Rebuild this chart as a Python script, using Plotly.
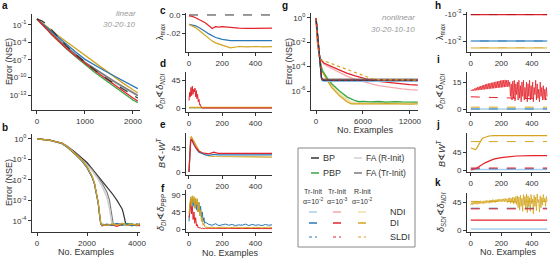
import plotly.graph_objects as go

W, H = 551, 259
def fx(p): return p / W
def fy(p): return 1 - p / H

BLACK = '#333333'; GREEN = '#35a845'; LGRAY = '#d0d0d0'; GRAY = '#7a7a7a'
LBLUE = '#a9d0ea'; BLUE = '#2a78b8'; PINK = '#f5a9ad'; RED = '#e3232b'
LGOLD = '#f2e0a6'; GOLD = '#d4a41e'

# ---------------- data ----------------
# panel a (log10 of error)
a_x = [0, 100, 200, 300, 400, 500, 600, 800, 1000, 1200, 1400, 1600, 1800, 2000, 2100]
a_gold = [0, -0.6, -1.2, -1.9, -2.6, -3.2, -3.8, -5.0, -6.3, -7.5, -8.7, -9.8, -11.0, -12.1, -12.6]
a_blue = [0, -0.7, -1.4, -2.1, -2.9, -3.6, -4.2, -5.6, -6.9, -7.9, -8.8, -9.7, -10.6, -11.5, -11.9]
a_gray = [0, -0.8, -1.6, -2.4, -3.2, -3.9, -4.6, -6.0, -7.4, -8.5, -9.6, -10.6, -11.6, -12.6, -13.1]
a_lgray = [0, -0.8, -1.7, -2.5, -3.3, -4.1, -4.8, -6.2, -7.5, -8.6, -9.7, -10.7, -11.7, -12.5, -13.0]
a_black = [0, -0.3, -0.9, -1.8, -2.8, -3.7, -4.5, -6.0, -7.4, -8.7, -9.9, -11.0, -12.0, -13.0, -13.5]
a_red = [0, -0.8, -1.7, -2.6, -3.4, -4.2, -4.9, -6.3, -7.6, -8.8, -10.0, -11.2, -12.4, -13.5, -14.0]
a_green = [0, -0.8, -1.7, -2.6, -3.4, -4.2, -5.0, -6.4, -7.8, -9.1, -10.3, -11.5, -12.7, -13.85, -14.3]

# panel b (log10 of error)
b_x = [0, 500, 1000, 1200, 1500, 1800, 2000, 2200, 2300, 2400, 2450, 2500, 2550, 2600, 2800, 3000, 3200, 3400, 3600, 3800, 4000, 4120]
b_blue = [0, -0.06, -0.22, -0.39, -0.72, -1.08, -1.4, -1.85, -2.2, -2.75, -3.15, -3.7, -4.15, -4.2, -4.15, -4.22, -4.12, -4.2, -4.16, -4.24, -4.14, -4.2]
b_gold = [0, -0.06, -0.21, -0.37, -0.7, -1.05, -1.36, -1.8, -2.15, -2.7, -3.1, -3.6, -4.1, -4.18, -4.22, -4.14, -4.2, -4.12, -4.22, -4.16, -4.2, -4.14]
b_red = [0, -0.06, -0.22, -0.38, -0.71, -1.06, -1.38, -1.83, -2.18, -2.72, -3.12, -3.65, -4.12, -4.24, -4.18, -4.2, -4.26, -4.16, -4.2, -4.22, -4.18, -4.24]
b_green = [0, -0.06, -0.22, -0.39, -0.72, -1.07, -1.39, -1.84, -2.2, -2.74, -3.14, -3.68, -4.14, -4.16, -4.2, -4.18, -4.14, -4.22, -4.12, -4.18, -4.24, -4.16]
b_gray_x = [0, 500, 1000, 1200, 1500, 1800, 2000, 2200, 2400, 2600, 2800, 2900, 2950, 3000, 3050, 3200, 3400, 3600, 3800, 4000, 4120]
b_gray = [0, -0.06, -0.22, -0.38, -0.68, -1.0, -1.25, -1.5, -1.8, -2.15, -2.6, -3.0, -3.4, -3.9, -4.15, -4.18, -4.12, -4.2, -4.15, -4.22, -4.15]
b_lgray = [0, -0.06, -0.22, -0.38, -0.69, -1.02, -1.28, -1.55, -1.88, -2.3, -2.85, -3.4, -3.9, -4.15, -4.2, -4.14, -4.2, -4.16, -4.22, -4.15, -4.2]
b_black_x = [0, 500, 1000, 1200, 1500, 1800, 2000, 2200, 2400, 2600, 2800, 3000, 3200, 3300, 3400, 3450, 3500, 3550, 3600, 3800, 4000, 4120]
b_black = [0, -0.06, -0.2, -0.35, -0.62, -0.92, -1.15, -1.45, -1.75, -2.05, -2.3, -2.65, -3.0, -3.2, -3.4, -3.6, -3.95, -4.15, -4.18, -4.15, -4.2, -4.14]

# panel c (lambda max)
c_x = [0, 20, 40, 60, 80, 100, 120, 140, 160, 180, 200, 250, 300, 350, 400, 450, 500]
c_red = [-0.001, -0.0015, -0.003, -0.005, -0.007, -0.009, -0.012, -0.015, -0.013, -0.0135, -0.013, -0.014, -0.0145, -0.0148, -0.0146, -0.0148, -0.0147]
c_blue = [-0.0104, -0.011, -0.012, -0.014, -0.016, -0.0185, -0.021, -0.023, -0.025, -0.026, -0.027, -0.0285, -0.0283, -0.0285, -0.0284, -0.0285, -0.0284]
c_gold = [-0.0105, -0.012, -0.014, -0.017, -0.02, -0.0235, -0.026, -0.029, -0.031, -0.032, -0.0335, -0.0365, -0.035, -0.0355, -0.035, -0.0355, -0.0352]

# panel d
d_red_x = [0, 4, 8, 12, 16, 20, 24, 28, 32, 36, 40, 44, 48, 52, 56, 60, 64, 68, 72, 76, 80, 100, 500]
d_red = [12, 25, 18, 33, 20, 35, 22, 30, 26, 32, 18, 28, 15, 22, 10, 14, 5, 6, 2, 1, 0, 0, 0]
d_flat_x = [0, 500]
d_gold = [1, 1]
d_blue = [0, 0]

# panel e
e_x = [0, 5, 10, 15, 20, 30, 40, 50, 60, 80, 100, 120, 150, 175, 200, 250, 300, 400, 500]
e_gold = [0, 45, 64, 66, 63, 56, 50, 44, 40, 35, 32, 30, 29, 29, 28, 28, 28, 28, 28]
e_blue = [0, 38, 57, 60, 58, 51, 45, 41, 37, 34, 32, 31, 33, 32, 32, 32, 32, 32, 32]
e_red = [0, 30, 58, 62, 58, 52, 46, 42, 39, 36, 35, 34, 37, 35, 35, 35, 35, 35, 35]

# panel f
f_x = [0, 5, 10, 15, 20, 25, 30, 35, 40, 45, 50, 55, 60, 65, 70, 75, 80, 85, 90, 95, 100,
       120, 140, 160, 180, 200, 220, 240, 260, 280, 300, 320, 340, 360, 380, 400, 420, 440, 460, 480, 500]
f_gold = [40, 75, 85, 60, 88, 70, 86, 55, 82, 65, 80, 45, 70, 35, 50, 20, 30, 10, 15, 6, 5,
          4, 5, 3, 4, 5, 4, 3, 4, 5, 4, 3, 4, 4, 3, 5, 4, 3, 4, 5, 4]
f_blue = [20, 60, 80, 50, 85, 60, 80, 55, 78, 50, 75, 45, 70, 40, 60, 30, 45, 20, 30, 15, 18,
          12, 10, 14, 9, 11, 13, 10, 12, 9, 11, 10, 13, 9, 12, 10, 11, 9, 12, 10, 11]
f_red = [30, 45, 80, 40, 60, 25, 45, 15, 30, 8, 12, 3, 5, 2, 3, 1, 2, 1, 2, 1, 2,
         2, 1, 2, 1, 1, 2, 1, 2, 1, 1, 2, 1, 2, 1, 1, 2, 1, 2, 1, 1]

# panel g (log10 of error)
g_dark_x = [0, 100, 200, 300, 400, 500, 600, 700, 800, 1000, 2000, 4000, 6000, 8000, 10000, 12000, 13000]
g_black = [0, -0.8, -1.6, -2.4, -3.2, -3.9, -4.5, -4.9, -5.05, -5.1, -5.1, -5.1, -5.12, -5.1, -5.1, -5.1, -5.1]
g_blue = [0, -0.8, -1.6, -2.4, -3.2, -3.9, -4.5, -4.95, -5.12, -5.15, -5.15, -5.16, -5.15, -5.15, -5.16, -5.15, -5.15]
g_lblue = [0, -0.8, -1.6, -2.4, -3.2, -3.9, -4.6, -5.0, -5.15, -5.2, -5.2, -5.2, -5.21, -5.2, -5.2, -5.2, -5.2]
g_gray = [0, -0.8, -1.6, -2.4, -3.2, -3.9, -4.5, -4.9, -5.0, -5.02, -5.02, -5.03, -5.02, -5.02, -5.03, -5.02, -5.02]
g_curve_x = [0, 200, 500, 1000, 2000, 3000, 4000, 5000, 6000, 7000, 8000, 9000, 10000, 11000, 12000, 13000]
g_red = [0, -2.0, -3.3, -3.7, -4.0, -4.3, -4.55, -4.75, -4.95, -5.1, -5.2, -5.28, -5.35, -5.42, -5.48, -5.52]
g_pink = [0, -2.3, -3.3, -3.8, -4.15, -4.5, -4.8, -5.05, -5.25, -5.4, -5.55, -5.65, -5.75, -5.82, -5.88, -5.92]
g_sldi_gold_x = [0, 200, 500, 1000, 2000, 3000, 4000, 5000, 6000, 7000, 8000, 10000, 13000]
g_sldi_gold = [0, -2.0, -3.4, -3.5, -3.75, -4.0, -4.25, -4.5, -4.75, -4.95, -5.08, -5.1, -5.1]
g_fast_x = [0, 150, 300, 600, 800, 1500, 2000, 3000, 4000, 4500, 5000, 5500, 6000, 7000, 8000, 9000, 10000, 11000, 12000, 13000]
g_green = [0, -1.4, -2.4, -3.8, -4.3, -5.0, -5.4, -6.0, -6.5, -6.65, -6.8, -6.88, -6.85, -6.9, -6.86, -6.92, -6.87, -6.9, -6.88, -6.91]
g_gold = [0, -1.5, -2.5, -3.9, -4.4, -5.2, -5.7, -6.4, -6.9, -7.05, -7.06, -7.04, -7.07, -7.05, -7.06, -7.04, -7.06, -7.05, -7.07, -7.05]
g_lgold = [0, -1.5, -2.5, -3.85, -4.35, -5.1, -5.55, -6.25, -6.75, -6.95, -7.0, -7.02, -7.0, -7.01, -7.0, -7.02, -7.0, -7.01, -7.0, -7.01]

# panel h (|lambda max|, plotted as negative values)
h_x = [0, 100, 200, 300, 400, 500]
h_red = [1.05e-3, 1.05e-3, 1.05e-3, 1.05e-3, 1.05e-3, 1.05e-3]
h_blue = [1.0e-2, 1.0e-2, 1.0e-2, 1.0e-2, 1.0e-2, 1.0e-2]
h_gold = [1.8e-2, 1.8e-2, 1.8e-2, 1.8e-2, 1.8e-2, 1.8e-2]

# panel i
i_x = list(range(0, 501, 5))
i_red = [10, 10.6, 10.1, 11.0, 10.2, 11.4, 10.3, 11.8, 10.4, 12.2, 10.5, 12.5, 10.6, 12.8, 10.7, 13.1,
         10.8, 13.4, 10.9, 13.7, 11.0, 14.0, 11.1, 14.2, 11.2, 14.4, 11.3, 14.6, 11.4, 14.8, 11.5, 15.0,
         11.6, 15.2, 11.7, 15.4, 11.8, 15.6, 11.9, 15.8, 12.0, 16.0, 12.1, 16.0, 12.2, 16.2, 12.3, 16.0,
         12.4, 16.1,
         12.5, 15, 7, 14, 5, 15.5, 6, 16, 4.5, 14, 8, 15, 5, 16, 6, 13, 4, 15, 7, 16, 5, 12, 6, 15, 4,
         14, 7, 16, 5, 13, 6, 15, 4, 12, 8, 16, 5, 14, 6, 11, 4, 15, 7, 12, 5, 13, 6, 11, 5, 12, 7]
i_dash_x = [0, 100, 200, 250, 300, 400, 500]
i_red_dash = [6.8, 6.5, 6.2, 6.0, 5.8, 5.6, 5.5]
i_flat_x = [0, 500]
i_gold_dash = [1, 1]
i_blue = [0, 0]

# panel j
j_x = [0, 10, 20, 30, 40, 50, 60, 70, 80, 100, 120, 150, 200, 300, 400, 500]
j_gold = [55, 53, 52, 51, 55, 62, 70, 76, 80, 83, 85, 86, 86, 86, 86, 86]
j_red = [0, 0.5, 1, 3, 5, 8, 11, 13, 15, 19, 23, 27, 31, 35, 36, 36]
j_flat_x = [0, 500]
j_gold_dash = [71, 71]
j_red_dash = [5, 5]
j_blue_dash = [3, 3]
j_blue = [1, 1]

# panel k
k_x = list(range(0, 501, 5))
k_gold = [40, 44, 41, 45, 41, 45, 42, 46, 41, 46, 42, 46, 42, 47, 43, 46, 42, 47, 43, 47,
          43, 48, 44, 47, 43, 48, 44, 48, 44, 49, 45, 48, 44, 49, 45, 49, 45, 50, 46, 49,
          45, 50, 46, 50, 45, 51, 46, 50, 44, 51, 45, 52, 43, 51, 44, 53, 42, 52, 43, 54, 41,
          55, 36, 53, 32, 56, 38, 51, 30, 57, 40, 54, 33, 58, 28, 55, 37, 52, 30, 57, 42,
          50, 26, 56, 38, 53, 31, 58, 44, 49, 29, 55, 36, 52, 40, 57, 45, 51, 38, 54, 47]
k_flat_x = [0, 500]
k_gold_dash = [46, 46]
k_red_dash = [34, 34]
k_blue_dash = [35, 35]
k_red = [16, 16]
k_lblue = [1.5, 1.5]

fig = go.Figure()

def add(n, x, y, color, width=1.2, dash=None, log10=False):
    yy = [10 ** v for v in y] if log10 else y
    ax = '' if n == 1 else str(n)
    fig.add_trace(go.Scatter(x=x[:len(yy)], y=yy, mode='lines', xaxis='x' + ax, yaxis='y' + ax,
                             line=dict(color=color, width=width, dash=dash), showlegend=False,
                             hoverinfo='skip'))

# a
add(1, a_x, a_lgray, LGRAY, 2.5, log10=True)
add(1, a_x, a_gray, GRAY, 1.5, log10=True)
add(1, a_x, a_gold, GOLD, 1.3, log10=True)
add(1, a_x, a_blue, BLUE, 1.3, log10=True)
add(1, a_x, a_green, GREEN, 1.3, log10=True)
add(1, a_x, a_red, RED, 1.3, log10=True)
add(1, a_x, a_black, BLACK, 1.2, 'dash', log10=True)
# b
add(2, b_black_x, b_black, BLACK, 1.2, log10=True)
add(2, b_gray_x, b_gray, GRAY, 1.2, log10=True)
add(2, b_gray_x, b_lgray, LGRAY, 1.5, log10=True)
add(2, b_x, b_green, GREEN, 1.2, log10=True)
add(2, b_x, b_red, RED, 1.2, log10=True)
add(2, b_x, b_blue, BLUE, 1.2, log10=True)
add(2, b_x, b_gold, GOLD, 1.2, log10=True)
# c
add(3, [0, 500], [0, 0], BLACK, 1, 'dash')
add(3, c_x, c_red, RED, 1.2)
add(3, c_x, c_blue, BLUE, 1.2)
add(3, c_x, c_gold, GOLD, 1.2)
# d
add(4, d_flat_x, d_blue, LBLUE, 1.5)
add(4, d_flat_x, d_gold, GOLD, 1.5)
add(4, d_red_x, d_red, RED, 1.0)
# e
add(5, e_x, e_gold, GOLD, 1.2)
add(5, e_x, e_blue, BLUE, 1.2)
add(5, e_x, e_red, RED, 1.2)
# f
add(6, f_x, f_blue, BLUE, 1.0)
add(6, f_x, f_red, RED, 1.0)
add(6, f_x, f_gold, GOLD, 1.0)
# g
add(7, g_fast_x, g_lgold, LGOLD, 2.0, log10=True)
add(7, g_fast_x, g_gold, GOLD, 1.3, log10=True)
add(7, g_fast_x, g_green, GREEN, 1.3, log10=True)
add(7, g_curve_x, g_pink, PINK, 1.3, log10=True)
add(7, g_curve_x, g_red, RED, 1.3, log10=True)
add(7, g_dark_x, g_gray, GRAY, 1.3, log10=True)
add(7, g_dark_x, g_lblue, LBLUE, 1.3, log10=True)
add(7, g_dark_x, g_blue, BLUE, 1.3, log10=True)
add(7, g_dark_x, g_black, BLACK, 1.3, log10=True)
add(7, g_sldi_gold_x, g_sldi_gold, GOLD, 1.2, 'dot', log10=True)
add(7, g_dark_x, g_black, RED, 1.0, 'dot', log10=True)
# h
add(8, h_x, h_red, RED, 1.3)
add(8, h_x, h_red, '#b5151c', 1.0, 'dash')
add(8, h_x, h_blue, BLUE, 1.3)
add(8, h_x, h_blue, LBLUE, 1.0, 'dash')
add(8, h_x, h_gold, GOLD, 1.3)
add(8, h_x, h_gold, LGOLD, 1.0, 'dash')
# i
add(9, i_flat_x, i_blue, LBLUE, 1.5)
add(9, i_flat_x, i_blue, BLUE, 1.0, 'dash')
add(9, i_flat_x, i_gold_dash, GOLD, 1.0, 'dash')
add(9, i_dash_x, i_red_dash, RED, 1.0, 'dash')
add(9, i_x, i_red, RED, 0.8)
# j
add(10, j_flat_x, j_blue, LBLUE, 1.5)
add(10, j_flat_x, j_blue_dash, BLUE, 1.0, 'dash')
add(10, j_flat_x, j_red_dash, RED, 1.0, 'dash')
add(10, j_flat_x, j_gold_dash, GOLD, 1.0, 'dash')
add(10, j_x, j_red, RED, 1.2)
add(10, j_x, j_gold, GOLD, 1.2)
# k
add(11, k_flat_x, k_lblue, LBLUE, 1.5)
add(11, k_flat_x, k_red, RED, 1.2)
add(11, k_flat_x, k_gold_dash, GOLD, 1.0, 'dash')
add(11, k_x, k_gold, GOLD, 0.8)
add(11, k_flat_x, k_blue_dash, BLUE, 1.0, 'dash')
add(11, k_flat_x, k_red_dash, RED, 1.0, 'dash')

FONT = 'Liberation Sans, Arial, sans-serif'
TXT = '#333333'

def sup(e):
    return '10<sup>%s</sup>' % e

panels = [
    # n, xpx, ypx, xrange, yrange, xtype, ytype, xticks, yticks, yticktext
    (1, (32, 140), (14, 110), [-104, 2146], [-15.55, 0.85], 'linear', 'log', [0, 1000, 2000],
     [1e-1, 1e-4, 1e-7, 1e-10, 1e-13], [sup('-1'), sup('-4'), sup('-7'), sup('-10'), sup('-13')]),
    (2, (32, 140), (134, 232), [-200, 4120], [-4.54, 0.24], 'linear', 'log', [0, 2000, 4000],
     [1, 1e-1, 1e-2, 1e-3, 1e-4], [sup('0'), sup('-1'), sup('-2'), sup('-3'), sup('-4')]),
    (3, (186, 272), (13, 52), [-18, 500], [-0.0411, 0.0022], 'linear', 'linear', [0, 200, 400],
     [0, -0.02], ['0.0', '-.02']),
    (4, (186, 272), (72, 112), [-18, 500], [-6.4, 57.9], 'linear', 'linear', [0, 200, 400],
     [0, 45], ['0', '45']),
    (5, (186, 272), (133, 175), [-18, 500], [-5.6, 73], 'linear', 'linear', [0, 200, 400],
     [0, 45], ['0', '45']),
    (6, (186, 272), (190, 232), [-18, 500], [-7.9, 103], 'linear', 'linear', [0, 200, 400],
     [0, 45, 90], ['0', '45', '90']),
    (7, (311, 418), (13, 110), [-640, 13030], [-7.56, 0.41], 'linear', 'log', [0, 6000, 12000],
     [1, 1e-2, 1e-4, 1e-6], [sup('0'), sup('-2'), sup('-4'), sup('-6')]),
    (8, (467, 550), (12, 52), [-25, 519], [-1.593, -3.074], 'linear', 'log', [0, 200, 400],
     [1e-3, 1e-2], ['-' + sup('-3'), '-' + sup('-2')]),
    (9, (467, 550), (72, 112), [-25, 519], [-1.67, 20.6], 'linear', 'linear', [0, 200, 400],
     [0, 15], ['0', '15']),
    (10, (467, 550), (133, 172), [-25, 519], [-5, 92.5], 'linear', 'linear', [0, 200, 400],
     [0, 45], ['0', '45']),
    (11, (467, 550), (193, 232), [-25, 519], [-3.2, 59.5], 'linear', 'linear', [0, 200, 400],
     [0, 45], ['0', '45']),
]

lay = {}
for n, xp, yp, xr, yr, xt, yt, xtv, ytv, ytt in panels:
    s = '' if n == 1 else str(n)
    common = dict(showline=True, linecolor=TXT, linewidth=1, ticks='outside', ticklen=3,
                  tickwidth=1, tickcolor=TXT, showgrid=False, zeroline=False, automargin=False,
                  tickfont=dict(size=8, color=TXT, family=FONT))
    lay['xaxis' + s] = dict(domain=[fx(xp[0]), fx(xp[1])], range=xr, type=xt, anchor='y' + s,
                            tickvals=xtv, ticktext=[str(v) for v in xtv], **common)
    lay['yaxis' + s] = dict(domain=[fy(yp[1]), fy(yp[0])], range=yr, type=yt, anchor='x' + s,
                            tickvals=ytv, ticktext=ytt, **common)

ann = []
def text(x, y, t, size=8, angle=0, color=TXT, xanchor='center', bold=False, italic=False):
    if bold:
        t = '<b>' + t + '</b>'
    if italic:
        t = '<i>' + t + '</i>'
    ann.append(dict(x=fx(x), y=fy(y), xref='paper', yref='paper', text=t, showarrow=False,
                    textangle=angle, xanchor=xanchor, yanchor='middle',
                    font=dict(size=size, color=color, family=FONT)))

for lab, x, y in [('a', 5, 6), ('b', 5, 127), ('c', 163, 10), ('d', 163, 64), ('e', 163, 125),
                  ('f', 163, 188), ('g', 285, 6), ('h', 438, 6), ('i', 438, 60), ('j', 438, 125),
                  ('k', 438, 182)]:
    text(x, y, lab, size=10, bold=True, color='#111111')

text(9, 62, 'Error (NSE)', 9, -90)
text(9, 183, 'Error (NSE)', 9, -90)
text(289, 62, 'Error (NSE)', 9, -90)
text(86, 252, 'No. Examples', 9)
text(230, 253, 'No. Examples', 9)
text(365, 130, 'No. Examples', 9)
text(508, 252, 'No. Examples', 9)
text(161, 32, 'λ<sub>max</sub>', 9, -90)
text(441, 32, 'λ<sub>max</sub>', 9, -90)
text(161, 92, '<i>δ<sub>DI</sub></i>∢<i>δ<sub>NDI</sub></i>', 9, -90)
text(441, 92, '<i>δ<sub>DI</sub></i>∢<i>δ<sub>NDI</sub></i>', 9, -90)
text(161, 153, '<i>B</i>∢-<i>W<sup>T</sup></i>', 9, -90)
text(441, 153, '<i>B</i>∢<i>W<sup>T</sup></i>', 9, -90)
text(161, 212, '<i>δ<sub>DI</sub></i>∢<i>δ<sub>PBP</sub></i>', 9, -90)
text(441, 212, '<i>δ<sub>SDI</sub></i>∢<i>δ<sub>NDI</sub></i>', 9, -90)
text(138, 13, 'linear', 8, color='#999999', xanchor='right', italic=True)
text(138, 24, '30-20-10', 8, color='#999999', xanchor='right', italic=True)
text(417, 18, 'nonlinear', 8, color='#999999', xanchor='right', italic=True)
text(417, 29, '30-20-10-10', 8, color='#999999', xanchor='right', italic=True)

# legend box
shapes = [dict(type='rect', xref='paper', yref='paper', x0=fx(298), x1=fx(415), y0=fy(247), y1=fy(148),
               line=dict(color='#888888', width=1), fillcolor='white')]
def lgline(x0, x1, y, color, dash='solid', width=1.5):
    shapes.append(dict(type='line', xref='paper', yref='paper', x0=fx(x0), x1=fx(x1), y0=fy(y), y1=fy(y),
                       line=dict(color=color, width=width, dash=dash)))
lgline(311, 319, 158, BLACK); text(321, 158, 'BP', 9, xanchor='left')
lgline(311, 319, 173, GREEN); text(321, 173, 'PBP', 9, xanchor='left')
lgline(354, 362, 158, LGRAY); text(364, 158, 'FA (R-Init)', 8.5, xanchor='left')
lgline(354, 362, 173, GRAY); text(364, 173, 'FA (Tr-Init)', 8.5, xanchor='left')
for cx, h1, h2 in [(313, 'Tr-Init', 'α=10<sup>-2</sup>'), (337, 'Tr-Init', 'α=10<sup>-3</sup>'),
                   (362, 'R-Init', 'α=10<sup>-2</sup>')]:
    text(cx, 191, h1, 7)
    text(cx, 201, h2, 7)
for cx, cols in [(313, (LBLUE, BLUE)), (337, (PINK, RED)), (362, (LGOLD, GOLD))]:
    lgline(cx - 4, cx + 4, 212, cols[0])
    lgline(cx - 4, cx + 4, 223, cols[1])
    lgline(cx - 4, cx + 4, 237, cols[1], 'dot', 1.2)
text(388, 212, 'NDI', 9, xanchor='left')
text(388, 223, 'DI', 9, xanchor='left')
text(388, 237, 'SLDI', 9, xanchor='left')

fig.update_layout(width=W, height=H, margin=dict(l=0, r=0, t=0, b=0), plot_bgcolor='white',
                  paper_bgcolor='white', annotations=ann, shapes=shapes, showlegend=False,
                  font=dict(family=FONT, color=TXT), **lay)
fig.write_html('out.html', config={'displayModeBar': False},
               post_script="document.body.style.margin='0';document.body.style.overflow='hidden';")
